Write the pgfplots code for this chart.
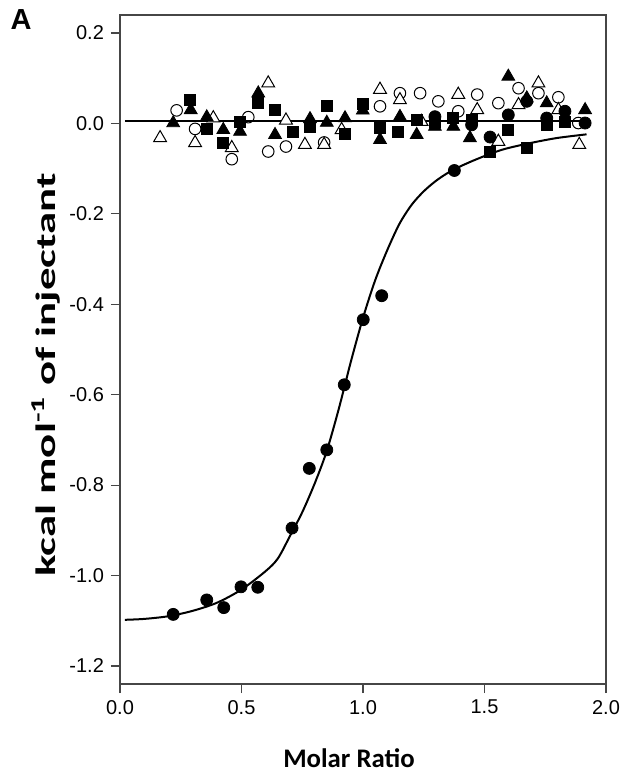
\documentclass[border=0pt]{standalone}
\usepackage{pgfplots}
\pgfplotsset{compat=1.18}
\usepackage{fontspec}
\setmainfont{Liberation Sans}
\newfontfamily\calibri{Carlito}

\pgfplotstableread{
x y
0.219 -1.086
0.357 -1.054
0.427 -1.071
0.498 -1.025
0.567 -1.026
0.708 -0.895
0.779 -0.763
0.851 -0.722
0.923 -0.578
1.001 -0.434
1.077 -0.381
1.376 -0.104
1.523 -0.030
1.296 0.015
1.447 -0.003
1.598 0.019
1.674 0.049
1.756 0.012
1.831 0.027
1.914 0.001
}\fcircles

\pgfplotstableread{
x y
0.288 0.052
0.357 -0.012
0.425 -0.042
0.494 0.004
0.569 0.045
0.638 0.029
0.711 -0.018
0.782 -0.007
0.851 0.038
0.926 -0.023
0.999 0.044
1.070 -0.010
1.145 -0.018
1.221 0.008
1.296 0.004
1.372 0.012
1.447 0.008
1.523 -0.062
1.598 -0.014
1.674 -0.054
1.756 -0.003
1.831 0.004
}\fsquares

\pgfplotstableread{
x y
0.219 0.001
0.291 0.030
0.357 0.014
0.425 -0.014
0.494 -0.018
0.569 0.067
0.638 -0.025
0.782 0.010
0.851 0.002
0.926 0.012
0.999 0.029
1.070 -0.036
1.152 0.015
1.221 -0.025
1.296 -0.007
1.372 -0.007
1.440 -0.032
1.598 0.104
1.674 0.056
1.756 0.045
1.914 0.030
}\ftriangles

\pgfplotstableread{
x y
0.165 -0.032
0.309 -0.043
0.384 0.012
0.460 -0.054
0.610 0.089
0.683 0.007
0.761 -0.047
0.840 -0.047
0.912 -0.014
1.070 0.075
1.152 0.052
1.241 0.004
1.392 0.064
1.470 0.030
1.557 -0.040
1.640 0.041
1.722 0.089
1.804 0.030
1.890 -0.047
}\otriangles

\pgfplotstableread{
x y
0.233 0.029
0.309 -0.012
0.460 -0.079
0.528 0.014
0.610 -0.062
0.683 -0.051
0.840 -0.042
1.070 0.038
1.152 0.067
1.235 0.067
1.310 0.049
1.392 0.027
1.470 0.064
1.557 0.045
1.640 0.078
1.722 0.067
1.804 0.058
1.886 0.001
}\ocircles

\pgfplotstableread{
x y
0.02 -1.098
0.10 -1.096
0.20 -1.090
0.30 -1.078
0.40 -1.060
0.50 -1.031
0.60 -0.990
0.65 -0.962
0.70 -0.912
0.75 -0.860
0.80 -0.798
0.85 -0.726
0.90 -0.632
0.95 -0.527
1.00 -0.430
1.05 -0.347
1.10 -0.280
1.15 -0.222
1.20 -0.180
1.25 -0.150
1.30 -0.127
1.35 -0.109
1.40 -0.095
1.45 -0.083
1.50 -0.072
1.55 -0.062
1.60 -0.054
1.70 -0.042
1.80 -0.032
1.92 -0.024
}\fitcurve

\pgfplotstableread{
x y
0.02 0.005
1.92 0.005
}\fitline

\begin{document}
\begin{tikzpicture}
\useasboundingbox (-60pt,-49pt) rectangle (254.5pt,342pt);
\begin{axis}[
  at={(0,0)}, anchor=south west,
  width=243pt, height=334.5pt, scale only axis,
  xmin=0, xmax=2, ymin=-1.24, ymax=0.24,
  xtick={0,0.5,1,1.5,2}, xticklabels={0.0,0.5,1.0,1.5,2.0},
  ytick={-1.2,-1,-0.8,-0.6,-0.4,-0.2,0,0.2},
  yticklabels={-1.2,-1.0,-0.8,-0.6,-0.4,-0.2,0.0,0.2},
  tick align=outside, major tick length=4.5pt,
  xtick pos=bottom, ytick pos=left,
  axis line style={gray!55!black, line width=0.6pt},
  every tick/.style={gray!55!black, line width=0.6pt},
  tick label style={font=\fontsize{10}{12}\selectfont},
  clip=false,
]
\addplot[black, line width=1pt, smooth] table {\fitcurve};
\addplot[black, line width=1pt] table {\fitline};
\addplot[only marks, mark=o, mark size=2.9pt, mark options={draw=black, fill=white, line width=0.5pt}] table {\ocircles};
\addplot[only marks, mark=triangle*, mark size=3.7pt, mark options={draw=black, fill=white, line width=0.5pt}] table {\otriangles};
\addplot[only marks, mark=square*, mark size=2.75pt, mark options={draw=black, fill=black}] table {\fsquares};
\addplot[only marks, mark=triangle*, mark size=3.7pt, mark options={draw=black, fill=black}] table {\ftriangles};
\addplot[only marks, mark=*, mark size=3pt, mark options={draw=black, fill=black}] table {\fcircles};
\end{axis}
\node[font=\fontsize{14.5}{16}\selectfont\bfseries] at (-49.5pt,332pt) {A};
\node[rotate=90, font=\calibri\bfseries\fontsize{14}{16}\selectfont] at (-37pt,154.5pt) {\scalebox{1.6}[1]{kcal mol\textsuperscript{-1} of injectant}};
\node[font=\calibri\bfseries\fontsize{13.4}{15}\selectfont] at (114.5pt,-37pt) {Molar Ratio};
\end{tikzpicture}
\end{document}
